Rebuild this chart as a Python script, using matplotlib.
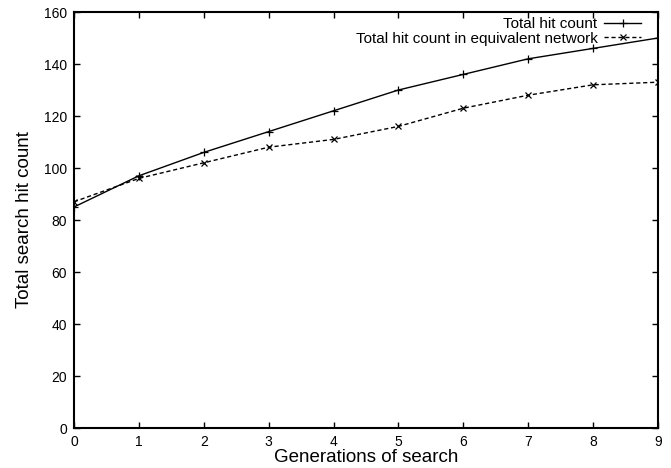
import matplotlib
matplotlib.use('Agg')
import matplotlib.pyplot as plt

plt.rcParams['font.family'] = ['Liberation Sans', 'DejaVu Sans']

generations = [0, 1, 2, 3, 4, 5, 6, 7, 8, 9]
total_hits = [85, 97, 106, 114, 122, 130, 136, 142, 146, 150]
equiv_hits = [87, 96, 102, 108, 111, 116, 123, 128, 132, 133]

W, H = 671, 468
fig = plt.figure(figsize=(W / 100, H / 100), dpi=100)
# axes box in pixels: left 74, right 658, top 12, bottom 428
ax = fig.add_axes([74 / W, (H - 428) / H, 584 / W, 416 / H])

ax.plot(generations, total_hits, color='black', linewidth=1.0, marker='+',
        markersize=6, markeredgewidth=0.9, label='Total hit count')
ax.plot(generations, equiv_hits, color='black', linewidth=1.0, linestyle=(0, (3, 2)),
        marker='x', markersize=5, markeredgewidth=0.9,
        label='Total hit count in equivalent network')

ax.set_xlim(0, 9)
ax.set_ylim(0, 160)
ax.set_xticks(range(0, 10))
ax.set_yticks(range(0, 161, 20))
ax.tick_params(direction='in', top=True, right=True, length=4.3, width=1,
               labelsize=10, pad=5)
for s in ax.spines.values():
    s.set_linewidth(1.5)

ax.set_xlabel('Generations of search', fontsize=13.5, labelpad=0)
ax.set_ylabel('Total search hit count', fontsize=13.5, labelpad=8)

leg = ax.legend(loc='upper right', bbox_to_anchor=(0.971, 0.988), frameon=False,
                markerfirst=False, fontsize=11, handlelength=2.4,
                borderaxespad=0, borderpad=0, labelspacing=0.05,
                handletextpad=0.45)
for t in leg.get_texts():
    t.set_ha('right')
leg._legend_box.align = 'right'

fig.savefig('out.png', dpi=100)
